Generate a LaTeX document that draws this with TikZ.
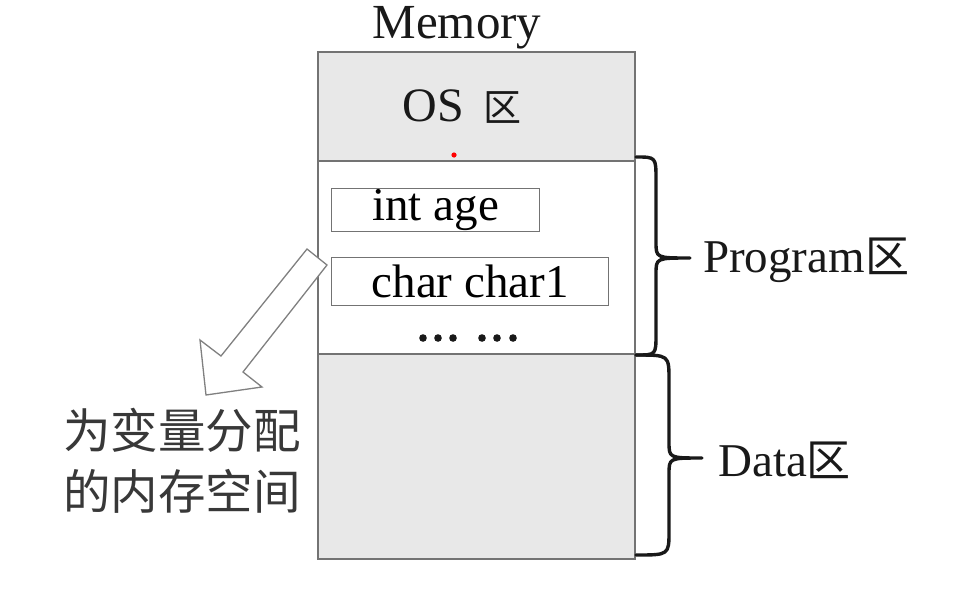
\documentclass[tikz,border=0pt]{standalone}
\usepackage{fontspec}
\setmainfont{Liberation Serif}
\newfontfamily\cjk{Noto Sans CJK SC}
\begin{document}
\begin{tikzpicture}[x=1pt,y=-1pt,
  memsec/.style={draw=black!55,line width=1.6pt,anchor=north west,inner sep=0pt,minimum width=317pt,font=\fontsize{48}{52}\selectfont},
  varbox/.style={draw=black!55,line width=1.4pt,anchor=north west,inner sep=0pt,font=\fontsize{47}{50}\selectfont},
  lbl/.style={font=\fontsize{47}{50}\selectfont,text=black!90,inner sep=0pt},
  bracestyle/.style={line width=3.4pt,black!90,line cap=round,line join=round},
  dotstyle/.style={fill=black!90,draw=none}]
\useasboundingbox[fill=white] (0,0) rectangle (960,595);
% memory sections
\node[memsec,fill=black!9,minimum height=109pt] (os) at (317,51) {};
\node[lbl,font=\fontsize{48}{52}\selectfont] (oslabel) at (os.center) [xshift=-14pt] {OS\hspace{20pt}{\cjk\fontsize{38}{48}\selectfont 区}};
\node[memsec,fill=white,minimum height=193pt] (prog) at (317,160) {};
\node[memsec,fill=black!9,minimum height=205pt] (data) at (317,353) {};
\node[lbl,font=\fontsize{49}{52}\selectfont] (mem) at (457,28) {Memory};
% variable boxes
\node[varbox,minimum width=208pt,minimum height=43pt] (intage) at (331,188) {int age\hspace{6pt}};
\node[varbox,minimum width=277pt,minimum height=48pt] (char) at (331,257) {char char1};
% dots
\foreach \x [count=\i] in {423,438,453,482,497,513}
  \fill[dotstyle] (\x,338) circle (3.8pt) coordinate (d\i);
% red mark
\fill[red] (454,155) circle (2.6pt) coordinate (redmark);
% hollow arrow
\draw[black!50,line width=1.3pt,fill=white,line join=miter]
  (307,249) -- (327,265) -- (243,372) -- (262,387) -- (206,395) -- (200,340) -- (221,356) -- cycle;
% braces
\coordinate (pb0) at (636,157);
\coordinate (pb1) at (636,355);
\coordinate (pbt) at (690,258);
\draw[bracestyle] (pb0) .. controls (656,157) .. (656,180) -- (656,242)
  .. controls (656,258) .. (pbt) .. controls (656,258) .. (656,274) -- (656,334)
  .. controls (656,355) .. (pb1);
\coordinate (db0) at (636,355);
\coordinate (db1) at (636,555);
\coordinate (dbt) at (702,458);
\draw[bracestyle] (db0) .. controls (669,355) .. (669,380) -- (669,442)
  .. controls (669,458) .. (dbt) .. controls (669,458) .. (669,474) -- (669,531)
  .. controls (669,555) .. (db1);
% side labels
\node[lbl,anchor=west] (plabel) at (703,260) {Program{\cjk\fontsize{44}{48}\selectfont 区}};
\node[lbl,anchor=west] (dlabel) at (718,460) {Data{\cjk\fontsize{44}{48}\selectfont 区}};
% Chinese note
\node[lbl,anchor=west,text=black!78,font=\cjk\fontsize{47.5}{50}\selectfont] (note1) at (63,430) {为变量分配};
\node[lbl,anchor=west,text=black!78,font=\cjk\fontsize{47.5}{50}\selectfont] (note2) at (63,491) {的内存空间};
\end{tikzpicture}
\end{document}
